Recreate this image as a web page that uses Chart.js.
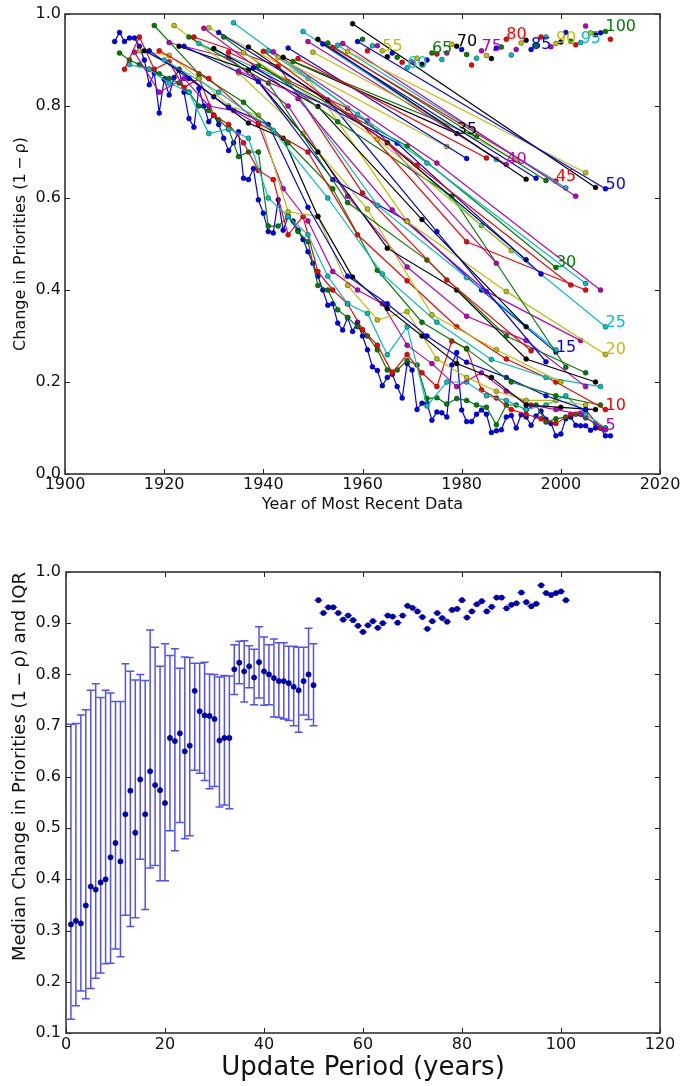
<!DOCTYPE html>
<html><head><meta charset="utf-8">
<script src="https://cdn.jsdelivr.net/npm/chart.js@4.4.1/dist/chart.umd.min.js"></script>
<style>
html,body{margin:0;padding:0;background:#fff;}
#c1{position:absolute;left:0;top:0;}
#c2{position:absolute;left:0;top:530px;}
</style></head><body>
<canvas id="c1" width="682" height="520"></canvas>
<canvas id="c2" width="682" height="556"></canvas>
<script>
// ---------- Data: change in priorities (1-rho) by update period k ----------
// Series pk: one value every k years, the first at year 1909 + k.
const baseYear = 1909;
const p1 = [.94,.96,.94,.948,.948,.93,.90,.846,.872,.785,
 .858,.824,.862,.878,.83,.773,.754,.838,.80,.766,
 .78,.76,.73,.703,.72,.744,.643,.64,.664,.596,
 .567,.527,.524,.596,.53,.56,.55,.53,.51,.483,
 .458,.43,.40,.367,.37,.328,.313,.34,.31,.33,
 .30,.27,.233,.225,.192,.21,.217,.19,.165,.24,
 .226,.14,.154,.154,.117,.135,.133,.124,.237,.264,
 .139,.114,.114,.13,.139,.13,.09,.094,.096,.124,
 .127,.10,.129,.124,.106,.126,.137,.119,.11,.083,
 .087,.12,.124,.106,.105,.105,.095,.10,.10,.083,.083];
const p2 = [.915,.90,.89,.88,.87,.86,.85,.83,.80,.79,
 .77,.75,.69,.70,.70,.539,.539,.56,.527,.505,
 .41,.40,.357,.34,.32,.30,.27,.226,.226,.247,
 .237,.164,.166,.152,.164,.16,.15,.145,.107,.15,
 .15,.14,.15,.113,.12,.124,.13,.122,.11,.10];
const p3 = [.88,.95,.88,.896,.84,.86,.78,.76,.72,.66,.64,.52,.56,.44,.40,.37,.314,.28,.22,.26,.22,.19,.289,.273,.183,.165,.14,.13,.12,.11,.13,.14,.10];
const p4 = [.89,.88,.85,.83,.74,.75,.73,.60,.56,.52,.43,.37,.349,.259,.32,.148,.20,.20,.17,.16,.14,.15,.17,.13,.10];
const p5 = [.917,.83,.86,.80,.79,.76,.62,.55,.44,.40,.37,.28,.24,.19,.22,.18,.15,.14,.13,.096];
const p6 = [.92,.91,.86,.80,.78,.57,.56,.41,.335,.353,.25,.21,.18,.16,.16,.15];
const p7 = [.92,.88,.82,.763,.73,.56,.428,.36,.30,.24,.21,.15,.145,.14];
const p8 = [.92,.86,.797,.76,.58,.43,.37,.30,.243,.21,.17,.14];
const p9 = [.975,.87,.808,.72,.62,.443,.33,.272,.20,.17,.15];
const p10 = [.92,.86,.763,.70,.52,.42,.32,.25,.20,.14];
const p11 = [.90,.83,.747,.60,.435,.33,.249,.21,.19];
const p12 = [.938,.905,.80,.604,.45,.343,.29,.19];
const p13 = [.975,.872,.74,.576,.346,.27,.20];
const p14 = [.93,.878,.70,.491,.40,.25,.20];
const p15 = [.93,.853,.64,.55,.40,.265];
const p16 = [.95,.85,.59,.465,.30,.22];
const p17 = [.95,.887,.611,.422,.268];
const p18 = [.936,.853,.584,.427,.27];
const p19 = [.969,.816,.574,.397,.29];
const p20 = [.97,.86,.549,.397,.26];
const p21 = [.925,.799,.553,.32];
const p22 = [.96,.813,.527,.244];
const p23 = [.95,.766,.604,.232];
const p24 = [.917,.795,.505,.40];
const p25 = [.981,.782,.54,.32];
const p26 = [.876,.768,.458];
const p27 = [.916,.728,.486];
const p28 = [.928,.72,.466];
const p29 = [.883,.719,.435];
const p30 = [.887,.713,.449];
const p31 = [.919,.671,.411];
const p32 = [.92,.676,.414];
const p33 = [.918,.676,.40];
const p34 = [.906,.712];
const p35 = [.906,.74];
const p36 = [.926,.686];
const p37 = [.897,.733];
const p38 = [.903,.687];
const p39 = [.962,.684];
const p40 = [.94,.673];
const p41 = [.917,.682];
const p42 = [.945,.641];
const p43 = [.935,.643];
const p44 = [.937,.638];
const p45 = [.927,.637];
const p46 = [.932,.622];
const p47 = [.936,.604];
const p48 = [.919,.655];
const p49 = [.979,.623];
const p50 = [.94,.62];
// Periods 51..101: a single value each (also the medians in the lower panel)
const singlePeriodValues = [.945,.92,.931,.931,.92,.907,.915,.906,.895,.883,
 .896,.904,.891,.90,.915,.913,.901,.915,.934,.93,
 .923,.912,.889,.904,.92,.91,.903,.926,.928,.945,
 .911,.923,.937,.943,.923,.932,.95,.95,.929,.936,
 .939,.96,.941,.933,.938,.974,.959,.955,.959,.962,.945];
// Lower panel, periods 1..50: median, lower and upper quartile
const periodMedian = [.312,.319,.314,.349,.386,.38,.394,.40,.443,.471,
 .435,.527,.573,.491,.595,.527,.611,.584,.574,.549,
 .676,.67,.685,.65,.661,.768,.728,.72,.719,.713,
 .671,.676,.676,.81,.823,.806,.816,.794,.824,.806,
 .80,.793,.787,.787,.783,.776,.769,.787,.80,.779];
const periodQ1 = [.127,.153,.182,.167,.187,.207,.217,.235,.236,.264,
 .249,.33,.308,.325,.439,.341,.422,.427,.397,.397,
 .495,.456,.511,.479,.485,.613,.607,.593,.577,.581,
 .541,.545,.538,.761,.782,.746,.774,.741,.754,.74,
 .741,.717,.716,.713,.71,.70,.687,.721,.712,.70];
const periodQ3 = [.703,.704,.721,.731,.769,.782,.755,.769,.764,.747,
 .747,.821,.806,.789,.80,.788,.887,.853,.816,.86,
 .837,.85,.812,.834,.833,.822,.822,.824,.801,.80,
 .795,.798,.797,.858,.865,.866,.856,.849,.893,.873,
 .858,.869,.862,.862,.855,.855,.853,.853,.89,.86];
// Tick labels
const topYearTicks = [1900,1920,1940,1960,1980,2000,2020];
const topValueTicks = [0,0.2,0.4,0.6,0.8,1.0];
const bottomPeriodTicks = [0,20,40,60,80,100,120];
const bottomValueTicks = [0.1,0.2,0.3,0.4,0.5,0.6,0.7,0.8,0.9,1.0];
const labelledPeriods = [5,10,15,20,25,30,35,40,45,50,55,60,65,70,75,80,85,90,95,100];

// ---------- Styling ----------
Chart.defaults.font.family = "'DejaVu Sans', sans-serif";
Chart.defaults.font.size = 16;
Chart.defaults.color = '#111';
const cycle = ['#0000ff','#008000','#ff0000','#00bfbf','#bf00bf','#bfbf00','#000000'];
const multi = [p1,p2,p3,p4,p5,p6,p7,p8,p9,p10,p11,p12,p13,p14,p15,p16,p17,p18,p19,p20,
 p21,p22,p23,p24,p25,p26,p27,p28,p29,p30,p31,p32,p33,p34,p35,p36,p37,p38,p39,p40,
 p41,p42,p43,p44,p45,p46,p47,p48,p49,p50];
const allSeries = multi.concat(singlePeriodValues.map(v => [v]));

const topDatasets = allSeries.map((vals, i) => {
  const k = i + 1;
  const col = cycle[i % 7];
  return {
    label: String(k),
    data: vals.map((v, j) => ({x: baseYear + k * (j + 1), y: v})),
    borderColor: col, backgroundColor: col,
    borderWidth: 1.2,
    pointRadius: 2.5, pointBorderWidth: 0.6,
    pointBackgroundColor: col, pointBorderColor: 'rgba(0,0,0,0.6)',
    tension: 0, order: 300 - k
  };
});

const frameTicks = {
  id: 'frameTicks',
  afterDatasetsDraw(chart) {
    const {ctx, chartArea: {left, right, top, bottom}, scales: {x, y}} = chart;
    ctx.save();
    ctx.strokeStyle = '#222'; ctx.lineWidth = 1;
    ctx.beginPath();
    x.ticks.forEach(t => {
      const px = Math.round(x.getPixelForValue(t.value)) + 0.5;
      ctx.moveTo(px, bottom); ctx.lineTo(px, bottom - 5);
      ctx.moveTo(px, top); ctx.lineTo(px, top + 5);
    });
    y.ticks.forEach(t => {
      const py = Math.round(y.getPixelForValue(t.value)) + 0.5;
      ctx.moveTo(left, py); ctx.lineTo(left + 5, py);
      ctx.moveTo(right, py); ctx.lineTo(right - 5, py);
    });
    ctx.stroke();
    ctx.lineWidth = 1.6; ctx.strokeStyle = '#333';
    ctx.strokeRect(left, top, right - left, bottom - top);
    ctx.restore();
  }
};

const periodLabels = {
  id: 'periodLabels',
  afterDatasetsDraw(chart) {
    const {ctx} = chart;
    ctx.save();
    ctx.font = "16px 'DejaVu Sans', sans-serif";
    ctx.textAlign = 'left'; ctx.textBaseline = 'alphabetic';
    labelledPeriods.forEach(k => {
      const meta = chart.getDatasetMeta(k - 1);
      const pt = meta.data[meta.data.length - 1];
      ctx.fillStyle = cycle[(k - 1) % 7];
      ctx.fillText(String(k), pt.x, pt.y);
    });
    ctx.restore();
  }
};

new Chart(document.getElementById('c1'), {
  type: 'line',
  data: {datasets: topDatasets},
  options: {
    responsive: false, animation: false, devicePixelRatio: 1,
    layout: {padding: {left: 0, right: 22, top: 14, bottom: 6}},
    plugins: {legend: {display: false}, tooltip: {enabled: false}},
    scales: {
      x: {type: 'linear', min: 1900, max: 2020,
        afterBuildTicks: s => { s.ticks = topYearTicks.map(v => ({value: v})); },
        afterFit: s => { s.height = 40; },
        grid: {display: false, drawTicks: false}, border: {display: false},
        ticks: {padding: 1, maxRotation: 0, callback: v => String(v)},
        title: {display: true, text: 'Year of Most Recent Data', padding: {top: 0, bottom: 0}}},
      y: {min: 0, max: 1,
        afterBuildTicks: s => { s.ticks = topValueTicks.map(v => ({value: v})); },
        afterFit: s => { s.width = 65; },
        grid: {display: false, drawTicks: false}, border: {display: false},
        ticks: {padding: 4, callback: v => Number(v).toFixed(1)},
        title: {display: true, text: 'Change in Priorities (1\u2009−\u2009ρ)', padding: {top: 11, bottom: 0}}}
    }
  },
  plugins: [frameTicks, periodLabels]
});

// ---------- Lower panel ----------
const allMedian = periodMedian.concat(singlePeriodValues);
const allQ1 = periodQ1.concat(singlePeriodValues);
const allQ3 = periodQ3.concat(singlePeriodValues);

const errorBars = {
  id: 'errorBars',
  beforeDatasetsDraw(chart) {
    const {ctx, scales: {x, y}} = chart;
    ctx.save();
    ctx.strokeStyle = '#5050ff'; ctx.lineWidth = 1.5;
    ctx.beginPath();
    allMedian.forEach((m, i) => {
      const px = x.getPixelForValue(i + 1);
      const y1 = y.getPixelForValue(allQ1[i]);
      const y3 = y.getPixelForValue(allQ3[i]);
      ctx.moveTo(px, y1); ctx.lineTo(px, y3);
      ctx.moveTo(px - 4, y1); ctx.lineTo(px + 4, y1);
      ctx.moveTo(px - 4, y3); ctx.lineTo(px + 4, y3);
    });
    ctx.stroke();
    ctx.restore();
  }
};

new Chart(document.getElementById('c2'), {
  type: 'scatter',
  data: {datasets: [{
    data: allMedian.map((m, i) => ({x: i + 1, y: m})),
    pointRadius: 2.6, pointBorderWidth: 0.6,
    pointBackgroundColor: '#0000c0', pointBorderColor: '#000060', showLine: false
  }]},
  options: {
    responsive: false, animation: false, devicePixelRatio: 1,
    layout: {padding: {left: 0, right: 22, top: 42, bottom: 0}},
    plugins: {legend: {display: false}, tooltip: {enabled: false}},
    scales: {
      x: {type: 'linear', min: 0, max: 120,
        afterBuildTicks: s => { s.ticks = bottomPeriodTicks.map(v => ({value: v})); },
        afterFit: s => { s.height = 53; },
        grid: {display: false, drawTicks: false}, border: {display: false},
        ticks: {padding: 2, maxRotation: 0, callback: v => String(v)},
        title: {display: true, text: 'Update Period (years)', font: {size: 26}, padding: {top: 0, bottom: 2}}},
      y: {min: 0.1, max: 1.0,
        afterBuildTicks: s => { s.ticks = bottomValueTicks.map(v => ({value: v})); },
        afterFit: s => { s.width = 66; },
        grid: {display: false, drawTicks: false}, border: {display: false},
        ticks: {padding: 5, callback: v => Number(v).toFixed(1)},
        title: {display: true, text: 'Median Change in Priorities (1\u2009−\u2009ρ) and IQR', align: 'end', font: {size: 18}, padding: {top: 10, bottom: 0}}}
    }
  },
  plugins: [errorBars, frameTicks]
});
</script>
</body></html>
